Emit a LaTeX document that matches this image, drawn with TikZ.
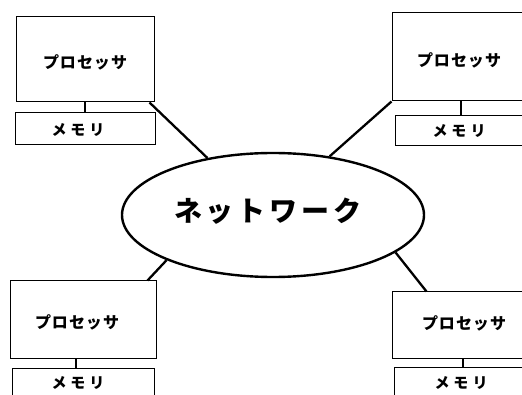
\documentclass[tikz,border=0pt]{standalone}
\usepackage{fontspec}
\setmainfont{Noto Sans CJK JP}
\usetikzlibrary{shapes.geometric,calc}
\tikzset{
  procbox/.style={draw=black,line width=1pt,rectangle,inner sep=0pt},
  membox/.style={draw=black,line width=1pt,rectangle,inner sep=0pt,minimum height=32pt},
  ptext/.style={inner sep=0pt,font=\bfseries\fontsize{16}{16}\selectfont},
  mtext/.style={inner sep=0pt,font=\bfseries\fontsize{15}{15}\selectfont},
  link/.style={draw=black,line width=2.3pt},
  stub/.style={draw=black,line width=1.6pt},
}
\newcommand{\proctxt}{プ\kern1ptロ\kern1ptセ\kern1ptッ\kern1ptサ}
\newcommand{\memtxt}{メ\kern4ptモ\kern4ptリ}
\begin{document}
\begin{tikzpicture}[x=1pt,y=-1pt]
\useasboundingbox (0,0) rectangle (522,395);
\clip (0,0) rectangle (522,395);
\fill[white] (0,0) rectangle (522,395);

% network ellipse
\node[ellipse,draw=black,line width=2.4pt,minimum width=302pt,minimum height=124pt,inner sep=0pt] (net) at (273,215) {};
\node[inner sep=0pt,font=\bfseries\fontsize{28}{28}\selectfont] (nettxt) at (268,211) {ネ\kern4ptッ\kern4ptト\kern4ptワ\kern4ptー\kern4ptク};

% top-left
\node[procbox,minimum width=138pt,minimum height=85pt] (tlp) at (85,59.5) {};
\node[membox,minimum width=140pt] (tlm) at (85,129) {};
\node[ptext] (tlpt) at (85,62) {\proctxt};
\node[mtext] (tlmt) at (78,130) {\memtxt};

% top-right
\node[procbox,minimum width=138pt,minimum height=88pt] (trp) at (461,57) {};
\node[membox,minimum width=140pt,minimum height=30pt] (trm) at (465,131) {};
\node[ptext] (trpt) at (459,60) {\proctxt};
\node[mtext] (trmt) at (459,131) {\memtxt};

% bottom-left
\node[procbox,minimum width=146pt,minimum height=77pt] (blp) at (83,319.5) {};
\node[membox,minimum width=142pt,minimum height=40pt] (blm) at (83,388) {};
\node[ptext] (blpt) at (77,322) {\proctxt};
\node[mtext] (blmt) at (78,383) {\memtxt};

% bottom-right
\node[procbox,minimum width=138pt,minimum height=66pt] (brp) at (461,325) {};
\node[membox,minimum width=140pt,minimum height=40pt] (brm) at (464,387) {};
\node[ptext] (brpt) at (464,323) {\proctxt};
\node[mtext] (brmt) at (461,383) {\memtxt};

% processor-memory stubs
\draw[stub] (tlp.south -| 85,0) -- (tlm.north -| 85,0);
\draw[stub] (trp.south -| 461,0) -- (trm.north -| 461,0);
\draw[stub] (blp.south -| 76,0) -- (blm.north -| 76,0);
\draw[stub] (brp.south -| 463,0) -- (brm.north -| 463,0);

% links to network
\draw[link] ($(tlp.south east)+(-5,0)$) -- (net.139);
\draw[link] (trp.south west) -- (net.46);
\draw[link] ($(blp.north east)+(-9,0)$) -- (net.203);
\draw[link] ($(brp.north west)+(35,0)$) -- (net.-17);
\end{tikzpicture}
\end{document}
